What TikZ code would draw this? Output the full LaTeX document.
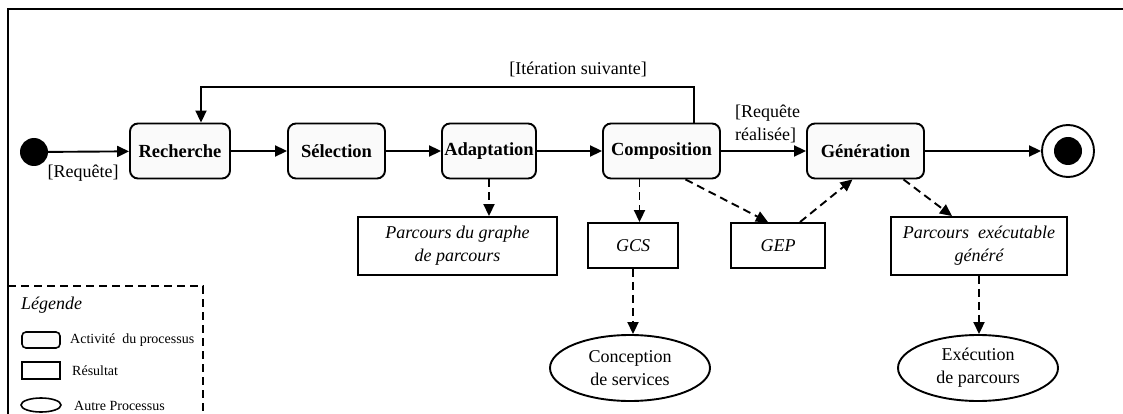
\documentclass[tikz,border=0pt]{standalone}
\usepackage{fontspec}
\setmainfont{Liberation Serif}
\usetikzlibrary{arrows.meta,shapes.geometric}
\begin{document}
\begin{tikzpicture}[x=1pt,y=-1pt,
 act/.style={draw,line width=1.9pt,rounded corners=8pt,fill=gray!4,font=\fontsize{18.5}{20}\selectfont\bfseries,inner sep=0pt,minimum height=55pt},
 res/.style={draw,line width=1.9pt,font=\fontsize{18}{23}\selectfont\itshape,align=center,inner sep=0pt},
 proc/.style={draw,ellipse,line width=1.9pt,font=\fontsize{18}{23}\selectfont,align=center,inner sep=0pt,minimum width=160pt,minimum height=66pt},
 flow/.style={line width=1.9pt,-{Triangle[length=12pt,width=11pt]}},
 dep/.style={flow,dash pattern=on 8pt off 5pt},
 lbl/.style={font=\fontsize{18}{23}\selectfont,inner sep=0pt},
 leg/.style={font=\fontsize{14}{16}\selectfont,inner sep=0pt,anchor=west}
]
\useasboundingbox (0,0) rectangle (1123,414);
% frame
\draw[line width=2.2pt] (8,414) -- (8,9) -- (1123,9);
% initial / final
\node[circle,fill=black,minimum size=28pt,inner sep=0pt] (init) at (34,152) {};
\node[circle,draw,line width=1.9pt,minimum size=52pt,inner sep=0pt] (fin) at (1068,151) {};
\node[circle,fill=black,minimum size=28pt,inner sep=0pt] (finin) at (fin.center) {};
% activities
\node[act,minimum width=100pt] (rech) at (180,151) {Recherche};
\node[act,minimum width=97pt] (sel) at (336.5,151) {Sélection};
\node[act,minimum width=94pt] (adapt) at (489,151) {Adaptation};
\node[act,minimum width=117pt] (comp) at (661.5,151) {Composition};
\node[act,minimum width=117pt] (gen) at (865.5,151) {Génération};
% results
\node[res,minimum width=199pt,minimum height=58pt] (pg) at (457.5,246) {Parcours du graphe\\de parcours};
\node[res,minimum width=90pt,minimum height=45pt] (gcs) at (633,245.5) {GCS};
\node[res,minimum width=94pt,minimum height=45pt] (gep) at (778,245.5) {GEP};
\node[res,minimum width=176pt,minimum height=58pt] (pe) at (979,246) {Parcours\ \ exécutable\\généré};
% other processes
\node[proc] (conc) at (630,368) {Conception\\de services};
\node[proc] (exec) at (978,368) {Exécution\\de parcours};
% main flow
\draw[flow] (init) -- (rech);
\draw[flow] (rech) -- (sel);
\draw[flow] (sel) -- (adapt);
\draw[flow] (adapt) -- (comp);
\draw[flow] (comp) -- (gen);
\draw[flow] (gen) -- (fin);
% loop
\coordinate (loopR) at (694,87);
\coordinate (loopL) at (201,87);
\draw[flow] (comp.north -| loopR) -- (loopR) -- (loopL) -- (rech.north -| loopL);
% labels
\node[lbl] (itl) at (578,69) {[Itération suivante]};
\node[lbl,anchor=west,align=left] (rql) at (735,124) {[Requête\\réalisée]};
\node[lbl] (rq) at (83,173) {[Requête]};
% dependencies
\draw[dep] (adapt.south) -- (adapt.south |- pg.north);
\draw[dep] ([xshift=-22pt]comp.south) -- ([xshift=-22pt]comp.south |- gcs.north);
\draw[dep] ([xshift=24pt]comp.south) -- ([xshift=-10pt]gep.north);
\draw[dep] ([xshift=22pt]gep.north) -- ([xshift=-13pt]gen.south);
\draw[dep] ([xshift=38pt]gen.south) -- ([xshift=-27pt]pe.north);
\draw[dep] (gcs.south) -- (gcs.south |- conc.north);
\draw[dep] (pe.south) -- (pe.south |- exec.north);
% legend
\draw[line width=1.7pt,dash pattern=on 8pt off 5pt] (8,286) -- (203,286) -- (203,414);
\node[font=\fontsize{18}{20}\selectfont\itshape,inner sep=0pt,anchor=west] (legt) at (21,305) {Légende};
\node[draw,line width=1.6pt,rounded corners=4pt,fill=gray!4,minimum width=38pt,minimum height=16pt,inner sep=0pt] (lg1) at (41,340) {};
\node[leg] (lt1) at (70,340) {Activité\ \ du processus};
\node[draw,line width=1.6pt,minimum width=38pt,minimum height=17pt,inner sep=0pt] (lg2) at (41,370.5) {};
\node[leg] (lt2) at (72,371) {Résultat};
\node[draw,ellipse,line width=1.6pt,minimum width=40pt,minimum height=14pt,inner sep=0pt] (lg3) at (41,405) {};
\node[leg] (lt3) at (74,406) {Autre Processus};
\end{tikzpicture}
\end{document}
